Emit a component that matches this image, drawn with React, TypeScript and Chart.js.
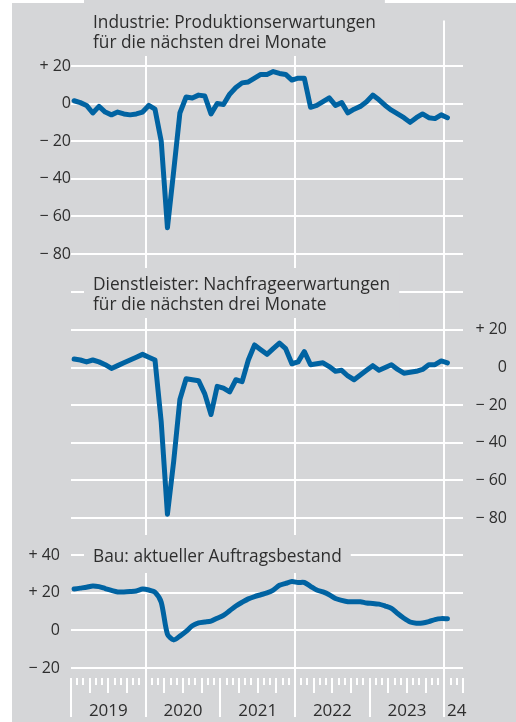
import React, { useEffect, useRef } from 'react';
import { Chart, registerables } from 'chart.js';

Chart.register(...registerables);

// Monthly survey balances, Jan 2019 – Jan 2024
const startYear = 2019;
const industrie = [
  1.5, 0.5, -1, -5, -1.5, -4.5, -6, -4.5, -5.5, -6, -5.5, -4.5,
  -1, -3, -20, -66, -36, -5, 3.5, 3, 4.5, 4, -5.5, 0,
  -0.5, 5, 8.5, 11, 11.5, 13.5, 15.5, 15.5, 17, 16, 15.5, 12.5,
  13.5, 13.5, -2, -1, 1, 3, -1, 0.5, -5, -3, -1.5, 1,
  4.5, 2, -1, -3.5, -5.5, -7.5, -10, -7.5, -5.5, -7.5, -8, -6,
  -7.5,
];
const dienstleister = [
  4.5, 4, 3, 4, 3, 1.5, -0.5, 1, 2.5, 4, 5.5, 7,
  5.5, 4, -29, -78, -50, -17, -6, -6.5, -7, -14, -25, -10,
  -11, -13, -6.5, -7.5, 4, 12, 9.5, 7, 10, 13, 10, 2,
  3, 8.5, 1.5, 2, 2.5, 0.5, -2, -1.5, -4.5, -6.5, -4, -1.5,
  1, -1.5, 0, 1.5, -1, -3, -2.5, -2, -1, 1.5, 1.5, 3.5,
  2.5,
];
const bau = [
  22, 22.5, 23, 23.7, 23.3, 22.3, 21.3, 20.5, 20.5, 20.7, 21, 22,
  21.5, 20.3, 15, -2, -5, -3, -0.5, 2.5, 4, 4.5, 5, 6.5,
  8, 10.5, 13, 15, 16.8, 18, 19, 20, 21.5, 24, 25, 26,
  25.5, 25.5, 23.5, 21.5, 20.5, 19, 17, 16, 15.3, 15.3, 15.3, 14.6,
  14.4, 14, 13, 11.8, 9, 6.5, 4.5, 3.9, 4, 4.7, 5.8, 6.3,
  6.2,
];
const yearTickLabels = ['2019', '2020', '2021', '2022', '2023', '24'];
const monthsShown = 63; // Jan 2019 .. Mar 2024
const ticksIndustrie = [-80, -60, -40, -20, 0, 20];
const ticksDienst = [-80, -60, -40, -20, 0, 20, 40];
const ticksBau = [-20, 0, 20, 40];
const titleIndustrie = ['Industrie: Produktionserwartungen', 'für die nächsten drei Monate'];
const titleDienst = ['Dienstleister: Nachfrageerwartungen', 'für die nächsten drei Monate'];
const titleBau = ['Bau: aktueller Auftragsbestand'];

// ---- layout / style ----
const W = 516;
const H = 722;
const BG = '#d5d6d8';
const LINE = '#0063a2';
const TEXT = '#2e2e2e';
const FONT = '"Open Sans", "Noto Sans", sans-serif';
const TICK_FONT = { family: FONT, size: 16 };
const AREA_TOP = 14;
const AREA_BOTTOM = 678;
const PPU = 1.9; // pixels per index point
const SPAN = (AREA_BOTTOM - AREA_TOP) / PPU;
const rangeFor = (zeroPx: number) => {
  const max = (zeroPx - AREA_TOP) / PPU;
  return { min: max - SPAN, max };
};

const fmt = (v: number) => (v > 0 ? '+ ' + v : v < 0 ? '\u2212 ' + Math.abs(v) : '0');

const toPoints = (arr: number[]) => arr.map((v, i) => ({ x: i + 0.5, y: v }));

const titles = [
  { lines: titleIndustrie, x: 93, base: 28, lh: 19.5, top: 0, bottom: 56 },
  { lines: titleDienst, x: 93, base: 290, lh: 20, top: 268, bottom: 318 },
  { lines: titleBau, x: 93, base: 562, lh: 20, top: 535, bottom: 573 },
];

const bgPlugin = {
  id: 'bg',
  beforeDraw(chart: any) {
    const ctx = chart.ctx;
    ctx.save();
    ctx.fillStyle = BG;
    ctx.fillRect(12, 3, W - 12, H - 3);
    ctx.restore();
  },
};

const titlePlugin = {
  id: 'titles',
  beforeDatasetsDraw(chart: any) {
    const ctx = chart.ctx;
    ctx.save();
    ctx.font = '17.3px ' + FONT;
    ctx.textBaseline = 'alphabetic';
    ctx.textAlign = 'left';
    for (const t of titles) {
      const w = Math.max(...t.lines.map((l) => ctx.measureText(l).width));
      ctx.fillStyle = BG;
      ctx.fillRect(t.x - 9, t.top, w + 18, t.bottom - t.top);
      ctx.fillStyle = TEXT;
      t.lines.forEach((l, i) => ctx.fillText(l, t.x, t.base + i * t.lh));
    }
    ctx.restore();
  },
};

const monthTickPlugin = {
  id: 'monthTicks',
  afterDraw(chart: any) {
    const ctx = chart.ctx;
    const xs = chart.scales.x;
    const y0 = chart.chartArea.bottom;
    ctx.save();
    ctx.strokeStyle = '#ffffff';
    ctx.lineWidth = 2;
    ctx.beginPath();
    for (let m = 0; m <= monthsShown; m++) {
      const px = Math.round(xs.getPixelForValue(m));
      const len = m % 12 === 0 ? 39 : m % 3 === 0 ? 15 : 7;
      ctx.moveTo(px, y0);
      ctx.lineTo(px, y0 + len);
    }
    ctx.stroke();
    ctx.restore();
  },
};

export default function App() {
  const ref = useRef<HTMLCanvasElement | null>(null);

  useEffect(() => {
    if (!ref.current) return;

    const labelAt: Record<number, string> = {};
    yearTickLabels.forEach((lab, k) => {
      const start = k * 12;
      const end = Math.min(start + 12, monthsShown);
      labelAt[(start + end) / 2 + (end - start < 12 ? 0.5 : 0)] = lab;
    });
    const gridAt: number[] = [];
    for (let m = 12; m <= monthsShown; m += 24) gridAt.push(m);
    const xTicks = [...Object.keys(labelAt).map(Number), ...gridAt].sort((a, b) => a - b);

    const yAxis = (ticks: number[], zeroPx: number, position: any, extra: any) => ({
      type: 'linear',
      position,
      ...rangeFor(zeroPx),
      afterBuildTicks: (s: any) => {
        s.ticks = ticks.map((v) => ({ value: v }));
      },
      grid: { color: '#ffffff', lineWidth: 2, drawTicks: false },
      border: { display: false },
      ticks: {
        padding: 11,
        color: TEXT,
        font: TICK_FONT,
        callback: (v: number) => fmt(v),
      },
      ...extra,
    });

    const lineDs = (data: number[], axis: string, tension: number) => ({
      data: toPoints(data),
      xAxisID: 'x',
      yAxisID: axis,
      borderColor: LINE,
      backgroundColor: LINE,
      borderWidth: 5,
      pointRadius: 0,
      tension,
      borderJoinStyle: 'round',
      borderCapStyle: 'round',
      fill: false,
    });

    const chart = new Chart(ref.current, {
      type: 'line',
      data: {
        datasets: [
          lineDs(industrie, 'y1', 0),
          lineDs(dienstleister, 'y2', 0),
          lineDs(bau, 'y3', 0.25),
        ] as any,
      },
      options: {
        responsive: false,
        animation: false,
        events: [],
        layout: { padding: { top: AREA_TOP, right: 9, bottom: 0, left: 0 }, autoPadding: false },
        plugins: { legend: { display: false }, tooltip: { enabled: false }, title: { display: false } },
        scales: {
          x: {
            type: 'linear',
            min: 0,
            max: monthsShown,
            afterBuildTicks: (s: any) => {
              s.ticks = xTicks.map((v) => ({ value: v }));
            },
            afterFit: (s: any) => {
              s.height = H - AREA_BOTTOM;
            },
            grid: {
              color: (c: any) => (c.tick && gridAt.includes(c.tick.value) ? '#ffffff' : 'rgba(0,0,0,0)'),
              lineWidth: 2,
              drawTicks: false,
            },
            border: { display: false },
            ticks: {
              autoSkip: false,
              maxRotation: 0,
              padding: 23,
              color: TEXT,
              font: { family: FONT, size: 17 },
              callback: (v: number) => labelAt[v] ?? '',
            },
          },
          y1: yAxis(ticksIndustrie, 97.8, { x: 0 }, {}),
          y2: yAxis(ticksDienst, 364.4, 'right', {
            afterFit: (s: any) => {
              s.width = 44;
            },
            ticks: {
              padding: 11,
              crossAlign: 'far',
              color: TEXT,
              font: TICK_FONT,
              callback: (v: number) => (v === 40 ? '' : fmt(v)),
            },
          }),
          y3: yAxis(ticksBau, 630, 'left', {
            afterFit: (s: any) => {
              s.width = 71;
            },
          }),
        } as any,
      },
      plugins: [bgPlugin, titlePlugin, monthTickPlugin],
    });

    return () => chart.destroy();
  }, []);

  return (
    <div style={{ position: 'absolute', left: 0, top: 0, width: W, height: H }}>
      <canvas ref={ref} width={W} height={H} style={{ display: 'block' }} />
    </div>
  );
}
